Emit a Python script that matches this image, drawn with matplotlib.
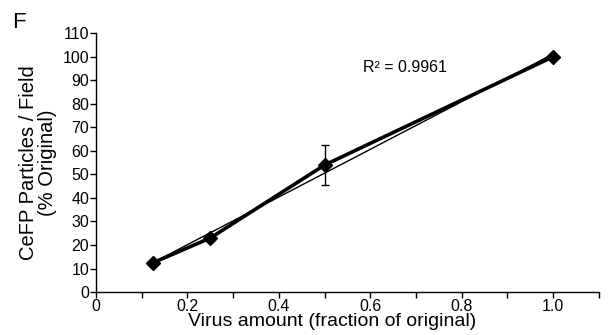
import numpy as np
import matplotlib.pyplot as plt
from matplotlib.ticker import MultipleLocator

plt.rcParams['font.family'] = ['Liberation Sans', 'DejaVu Sans']

# virus dilution series
virus_frac = [0.125, 0.25, 0.5, 1.0]
particles = [12.5, 23.0, 54.0, 100.0]
err = [0.8, 0.8, 8.5, 0.5]
r2_text = 'R² = 0.9961'

fig = plt.figure(figsize=(6.08, 3.35), dpi=100)
ax = fig.add_axes([0.158, 0.128, 0.827, 0.773])

# linear trend line
coef = np.polyfit(virus_frac, particles, 1)
xs = np.array([virus_frac[0], virus_frac[-1]])
ax.plot(xs, np.polyval(coef, xs), color='black', lw=1.0, zorder=2)

ax.errorbar(virus_frac, particles, yerr=err, color='black', lw=2.6,
            marker='D', ms=7, elinewidth=1.0, capsize=3, capthick=1.0, zorder=3)

ax.text(0.584, 95.5, r2_text, fontsize=11.5, ha='left', va='center')

ax.set_xlim(0, 1.1)
ax.set_ylim(0, 110)
ax.xaxis.set_major_locator(MultipleLocator(0.2))
ax.xaxis.set_minor_locator(MultipleLocator(0.1))
ax.yaxis.set_major_locator(MultipleLocator(10))
ax.set_xticks([0, 0.2, 0.4, 0.6, 0.8, 1.0])
ax.set_xticklabels(['0', '0.2', '0.4', '0.6', '0.8', '1.0'])
ax.tick_params(axis='both', which='both', direction='out', length=4, width=1,
               labelsize=11.5, pad=1)
ax.tick_params(axis='x', which='minor', length=4)

for s in ['top', 'right']:
    ax.spines[s].set_visible(False)
for s in ['left', 'bottom']:
    ax.spines[s].set_linewidth(1)

ax.set_xlabel('Virus amount (fraction of original)', fontsize=14)
ax.xaxis.set_label_coords(0.469, -0.082, transform=ax.transAxes)
ax.set_ylabel('CeFP Particles / Field\n(% Original)', fontsize=14.5, labelpad=4,
              linespacing=1.0)

fig.text(0.02, 0.916, 'F', fontsize=16, ha='left', va='baseline')

fig.savefig('out.png', dpi=100)
